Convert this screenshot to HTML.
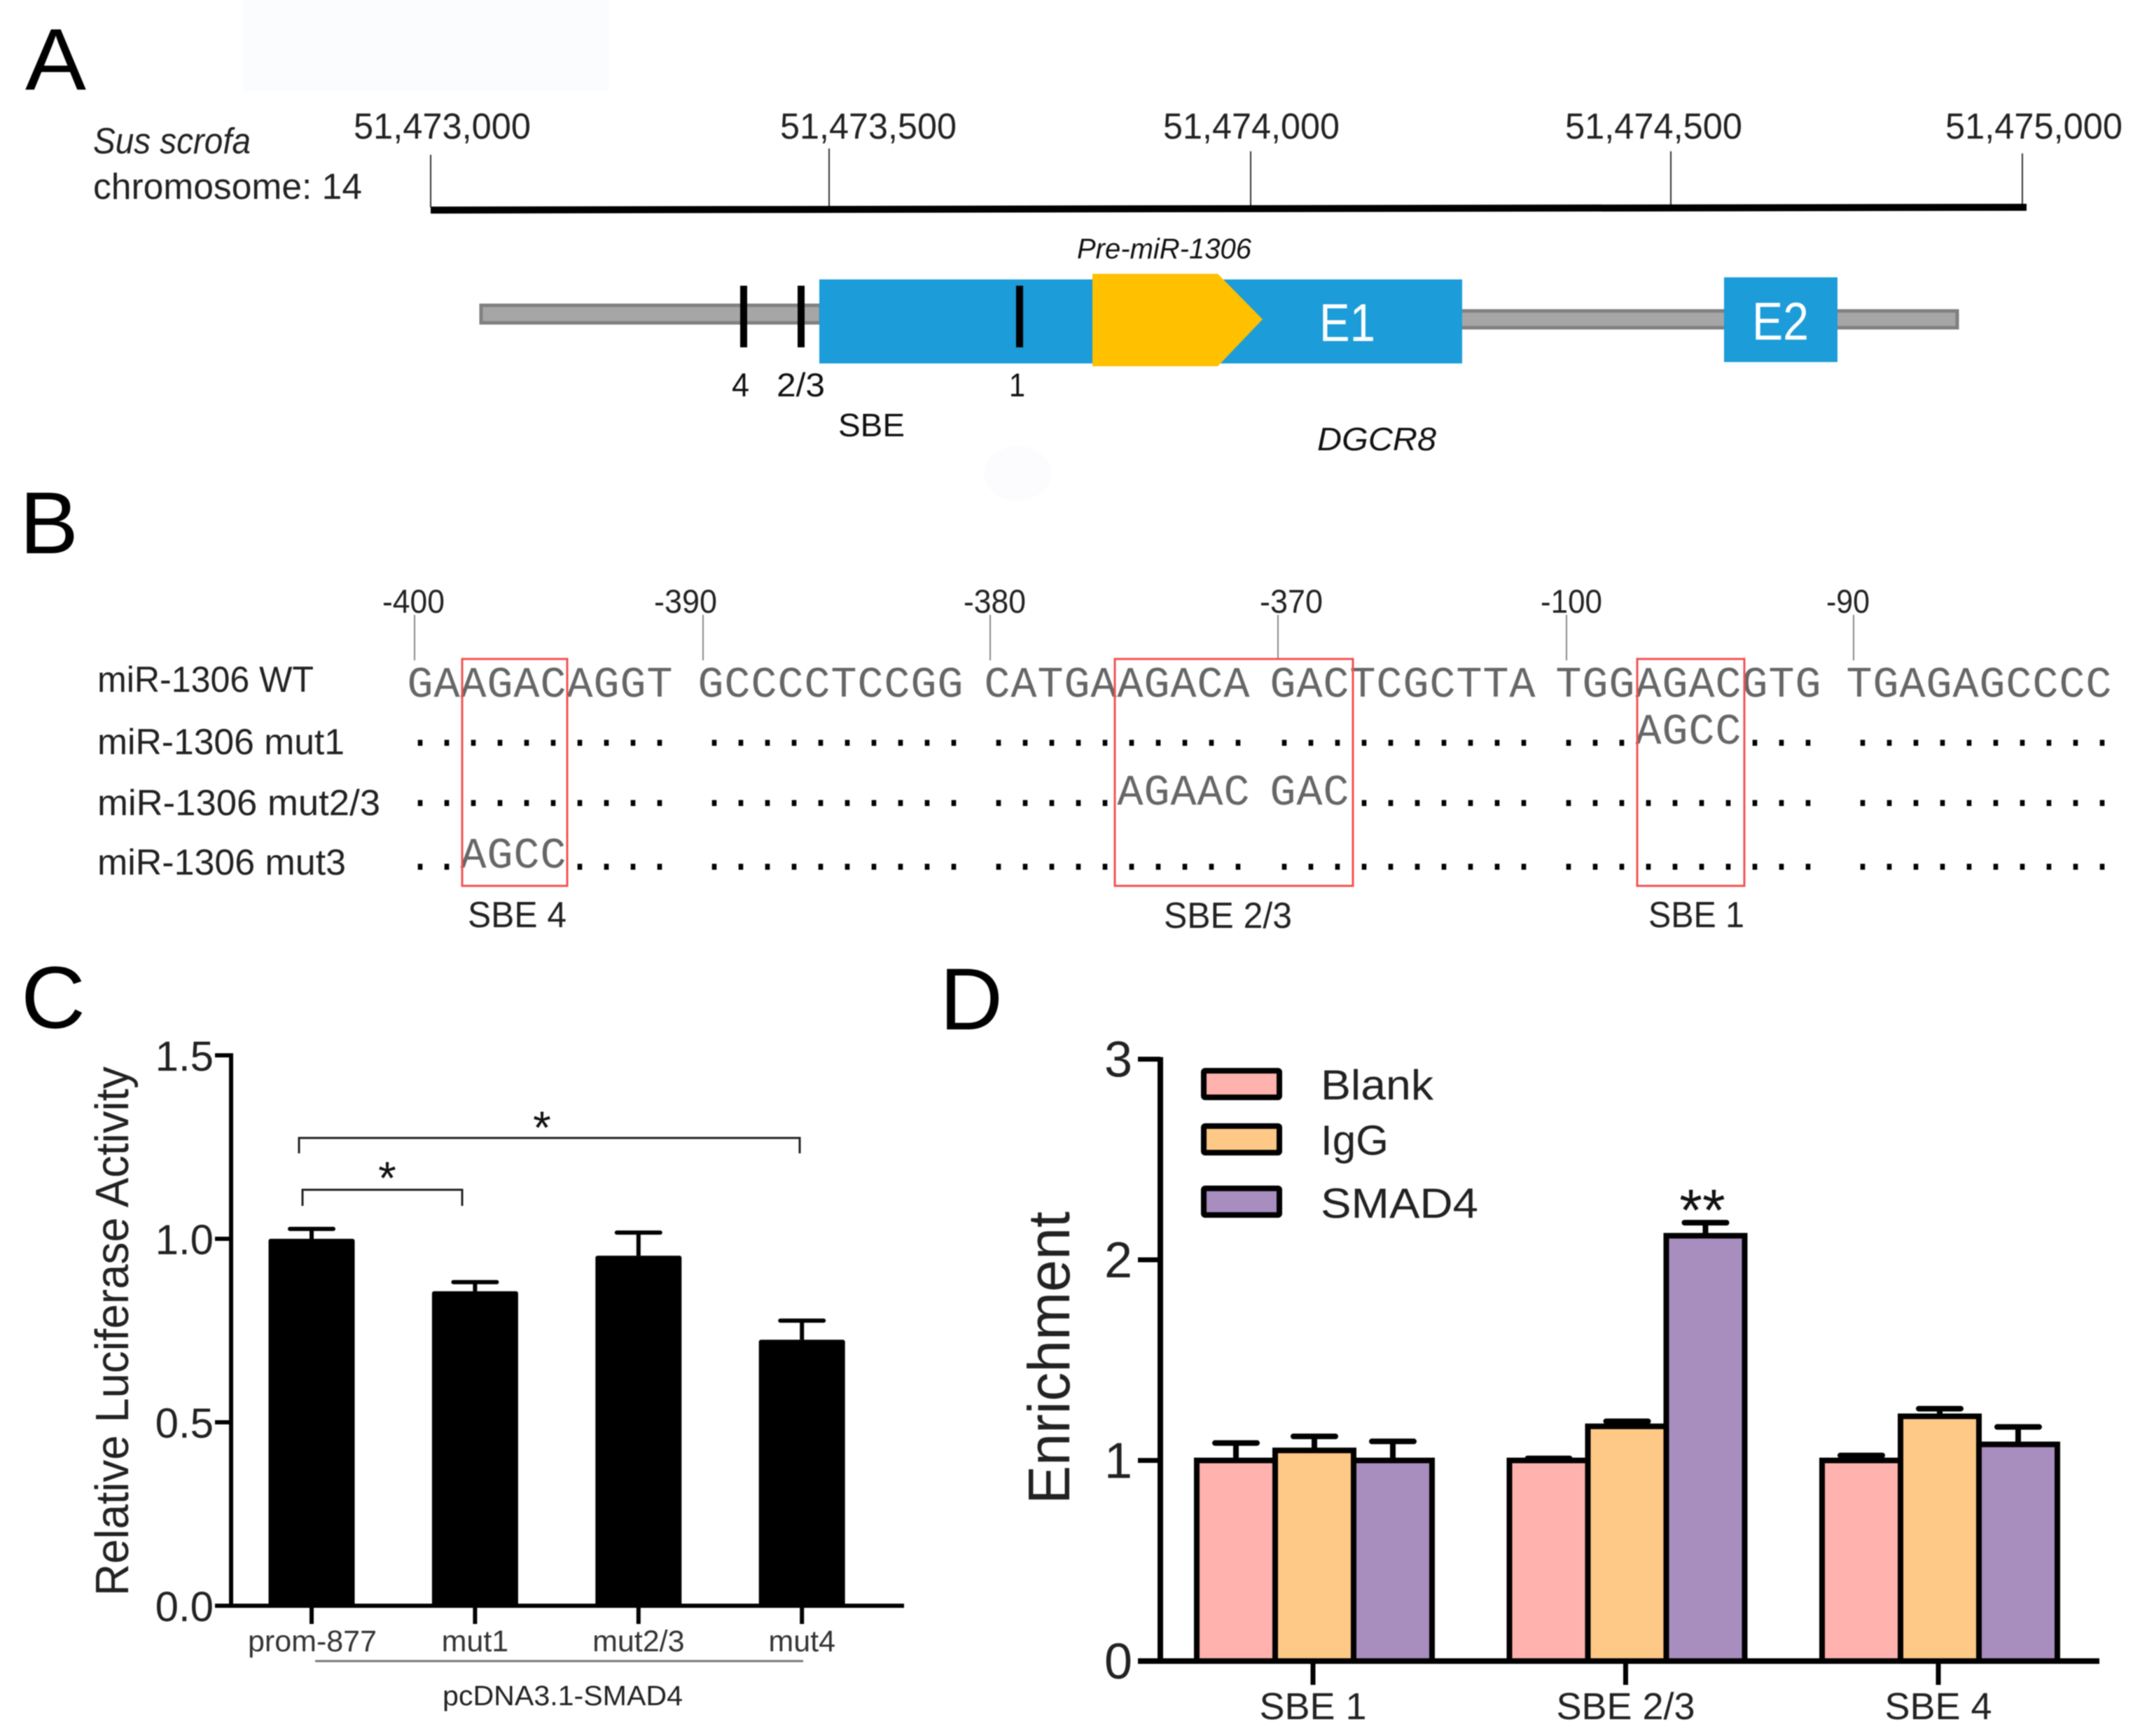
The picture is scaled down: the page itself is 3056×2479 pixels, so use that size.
<!DOCTYPE html>
<html lang="en">
<head>
<meta charset="utf-8">
<title>miR-1306 SBE figure</title>
<style>
html,body{margin:0;padding:0;background:#fff;}
svg{display:block;filter:blur(0.9px);}
text{font-family:"Liberation Sans",sans-serif;}
.cal{fill:#222;font-size:52px;}
.panel{fill:#000;font-size:125px;}
</style>
</head>
<body>
<svg id="fig" xmlns="http://www.w3.org/2000/svg" width="3056" height="2479" viewBox="0 0 3056 2479">
<rect x="0" y="0" width="3056" height="2479" fill="#fff"/>
<rect x="348" y="0" width="522" height="129" fill="#fbfcfe"/>
<ellipse cx="1453" cy="676" rx="48" ry="39" fill="#fcfcff"/>

<g>
<text class="panel" x="36" y="128" textLength="87" lengthAdjust="spacingAndGlyphs">A</text>
<text class="cal" x="133" y="219" font-style="italic" textLength="225" lengthAdjust="spacingAndGlyphs">Sus scrofa</text>
<text class="cal" x="133" y="284" textLength="384" lengthAdjust="spacingAndGlyphs">chromosome: 14</text>
<text class="cal" x="505" y="198" textLength="253" lengthAdjust="spacingAndGlyphs">51,473,000</text>
<text class="cal" x="1114" y="198" textLength="252" lengthAdjust="spacingAndGlyphs">51,473,500</text>
<text class="cal" x="1661" y="198" textLength="252" lengthAdjust="spacingAndGlyphs">51,474,000</text>
<text class="cal" x="2235" y="198" textLength="253" lengthAdjust="spacingAndGlyphs">51,474,500</text>
<text class="cal" x="2778" y="198" textLength="253" lengthAdjust="spacingAndGlyphs">51,475,000</text>
<g stroke="#333" stroke-width="2">
<line x1="615" y1="221" x2="615" y2="296"/>
<line x1="1184" y1="212" x2="1184" y2="295"/>
<line x1="1786" y1="216" x2="1786" y2="294"/>
<line x1="2386" y1="216" x2="2386" y2="292"/>
<line x1="2888" y1="219" x2="2888" y2="292"/>
</g>
<line x1="615" y1="300" x2="2894" y2="296" stroke="#000" stroke-width="10"/>
<rect x="687" y="436" width="485" height="25" fill="#a6a6a6" stroke="#808080" stroke-width="5"/>
<rect x="2085" y="444" width="710" height="24" fill="#a6a6a6" stroke="#808080" stroke-width="5"/>
<rect x="1170" y="399" width="918" height="120" fill="#1c9cd8"/>
<rect x="2462" y="396" width="162" height="121" fill="#1c9cd8"/>
<polygon points="1560,391 1739,391 1803,456 1739,523 1560,523" fill="#ffc000"/>
<rect x="1057" y="408" width="10" height="88" fill="#000"/>
<rect x="1139" y="408" width="10" height="88" fill="#000"/>
<rect x="1451" y="408" width="10" height="88" fill="#000"/>
<text x="1884" y="487" font-size="76" fill="#fff" textLength="80" lengthAdjust="spacingAndGlyphs">E1</text>
<text x="2502" y="485" font-size="76" fill="#fff" textLength="81" lengthAdjust="spacingAndGlyphs">E2</text>
<text x="1538" y="369" font-size="41" font-style="italic" fill="#111" textLength="249" lengthAdjust="spacingAndGlyphs">Pre-miR-1306</text>
<text x="1881" y="643" font-size="46" font-style="italic" fill="#111" textLength="170" lengthAdjust="spacingAndGlyphs">DGCR8</text>
<text x="1045" y="566" font-size="47" fill="#111" textLength="25" lengthAdjust="spacingAndGlyphs">4</text>
<text x="1109" y="566" font-size="47" fill="#111" textLength="69" lengthAdjust="spacingAndGlyphs">2/3</text>
<text x="1441" y="566" font-size="47" fill="#111" textLength="23" lengthAdjust="spacingAndGlyphs">1</text>
<text x="1197" y="623" font-size="46" fill="#111" textLength="95" lengthAdjust="spacingAndGlyphs">SBE</text>
</g>

<g id="panel-b">
<text class="panel" x="28" y="790" textLength="84" lengthAdjust="spacingAndGlyphs">B</text>
<text class="cal" x="546" y="875" style="font-size:47px" textLength="89" lengthAdjust="spacingAndGlyphs">-400</text>
<text class="cal" x="934" y="875" style="font-size:47px" textLength="90" lengthAdjust="spacingAndGlyphs">-390</text>
<text class="cal" x="1376" y="875" style="font-size:47px" textLength="89" lengthAdjust="spacingAndGlyphs">-380</text>
<text class="cal" x="1799" y="875" style="font-size:47px" textLength="90" lengthAdjust="spacingAndGlyphs">-370</text>
<text class="cal" x="2200" y="875" style="font-size:47px" textLength="88" lengthAdjust="spacingAndGlyphs">-100</text>
<text class="cal" x="2608" y="875" style="font-size:47px" textLength="62" lengthAdjust="spacingAndGlyphs">-90</text>
<g stroke="#888" stroke-width="2">
<line x1="592" y1="878" x2="592" y2="943"/>
<line x1="1004" y1="878" x2="1004" y2="943"/>
<line x1="1414" y1="878" x2="1414" y2="943"/>
<line x1="1825" y1="878" x2="1825" y2="940"/>
<line x1="2237" y1="878" x2="2237" y2="943"/>
<line x1="2647" y1="878" x2="2647" y2="943"/>
</g>
<text class="cal" x="139" y="988" textLength="309" lengthAdjust="spacingAndGlyphs">miR-1306 WT</text>
<text class="cal" x="139" y="1077" textLength="353" lengthAdjust="spacingAndGlyphs">miR-1306 mut1</text>
<text class="cal" x="139" y="1164" textLength="404" lengthAdjust="spacingAndGlyphs">miR-1306 mut2/3</text>
<text class="cal" x="139" y="1249" textLength="355" lengthAdjust="spacingAndGlyphs">miR-1306 mut3</text>
<g id="seq-layer"></g>
<g fill="none" stroke="#f65050" stroke-width="3">
<rect x="660" y="941" width="150" height="324"/>
<rect x="1592" y="941" width="340" height="324"/>
<rect x="2338" y="941" width="153" height="324"/>
</g>
<text class="cal" x="668" y="1324" textLength="141" lengthAdjust="spacingAndGlyphs">SBE 4</text>
<text class="cal" x="1662" y="1325" textLength="183" lengthAdjust="spacingAndGlyphs">SBE 2/3</text>
<text class="cal" x="2354" y="1324" textLength="137" lengthAdjust="spacingAndGlyphs">SBE 1</text>
</g>

<g id="panel-c">
<text class="panel" x="30" y="1468" textLength="92" lengthAdjust="spacingAndGlyphs">C</text>
<text transform="translate(183,2279) rotate(-90)" font-size="67" fill="#222" textLength="756" lengthAdjust="spacingAndGlyphs">Relative Luciferase Activity</text>
<line x1="450" y1="2372" x2="1147" y2="2372" stroke="#777" stroke-width="3"/>
<text x="632" y="2435" font-size="40" fill="#222" textLength="343" lengthAdjust="spacingAndGlyphs">pcDNA3.1-SMAD4</text>
<path d="M427 1647V1625H1142V1647" fill="none" stroke="#222" stroke-width="3"/>
<path d="M432 1722V1699H660V1722" fill="none" stroke="#222" stroke-width="3"/>
<text x="774" y="1633" font-size="66" text-anchor="middle" fill="#111">*</text>
<text x="553" y="1705" font-size="66" text-anchor="middle" fill="#111">*</text>
</g>

<g id="panel-d">
<text class="panel" x="1342" y="1470" textLength="90" lengthAdjust="spacingAndGlyphs">D</text>
<text transform="translate(1527,2148) rotate(-90)" font-size="84" fill="#222" textLength="418" lengthAdjust="spacingAndGlyphs">Enrichment</text>
<g id="d-legend"></g>
<text x="2431" y="1757" font-size="84" text-anchor="middle" fill="#111">**</text>
</g>
</svg>

<script>
// Panel C data
const cCategories = ['prom-877', 'mut1', 'mut2/3', 'mut4'];
const cValues = [1.0, 0.857, 0.954, 0.725];
const cErrorTops = [1.027, 0.882, 1.017, 0.777];
const cTickValues = [0, 0.5, 1.0, 1.5];
const cTickLabels = ['0.0', '0.5', '1.0', '1.5'];

// Panel D data
const dCategories = ['SBE 1', 'SBE 2/3', 'SBE 4'];
const dSeriesNames = ['Blank', 'IgG', 'SMAD4'];
const dBlank = [1.0, 1.0, 1.0];
const dIgG = [1.05, 1.17, 1.22];
const dSmad4 = [1.0, 2.12, 1.08];
const dBlankTops = [1.087, 1.01, 1.025];
const dIgGTops = [1.12, 1.195, 1.258];
const dSmad4Tops = [1.095, 2.185, 1.167];
const dTickValues = [0, 1, 2, 3];

// Panel B data
const seqWT = ['GAAGACAGGT', 'GCCCCTCCGG', 'CATGAAGACA', 'GACTCGCTTA', 'TGGAGACGTG', 'TGAGAGCCCC'];
const seqMut1 = ['..........', '..........', '..........', '..........', '...AGCC...', '..........'];
const seqMut23 = ['..........', '..........', '.....AGAAC', 'GAC.......', '..........', '..........'];
const seqMut3 = ['..AGCC....', '..........', '..........', '..........', '..........', '..........'];

const NS = 'http://www.w3.org/2000/svg';
function svgEl(parent, tag, attrs, txt) {
  const el = document.createElementNS(NS, tag);
  for (const k in attrs) el.setAttribute(k, attrs[k]);
  if (txt !== undefined) el.textContent = txt;
  parent.appendChild(el);
  return el;
}

/* ---------- Panel B sequence ---------- */
const seqLayer = document.getElementById('seq-layer');
function seqX(group, idx) {
  const starts = [600, 1015, 1424, 1832, 2240, 2655];
  return starts[group] + idx * 38;
}
function drawSeqRow(rowName, groups, letterY, dotY) {
  groups.forEach(function (g, gi) {
    const chars = g.split('');
    const letterXs = [], letterStr = [], dotXs = [], dotStr = [];
    chars.forEach(function (c, i) {
      if (c === '.') { dotXs.push(seqX(gi, i)); dotStr.push(c); }
      else { letterXs.push(seqX(gi, i)); letterStr.push(c); }
    });
    if (letterStr.length) {
      const t = svgEl(seqLayer, 'text', { x: letterXs.join(' '), y: letterY, 'text-anchor': 'middle', 'font-size': 62, fill: '#666', style: 'font-family:"Liberation Mono",monospace' }, letterStr.join(''));
      
      
    }
    if (dotStr.length) {
      const d = svgEl(seqLayer, 'text', { x: dotXs.map(function (x) { return x + (gi === 1 || gi === 5 ? 5 : 0) + (gi === 2 || gi === 3 ? 2 : 0); }).join(' '), y: dotY, 'text-anchor': 'middle', 'font-size': 58, fill: '#000', style: 'font-family:"Liberation Mono",monospace' }, dotStr.join(''));
      
      
    }
  });
}
drawSeqRow('seq-wt', seqWT, 995, 995);
drawSeqRow('seq-mut1', seqMut1, 1062, 1065);
drawSeqRow('seq-mut2-3', seqMut23, 1149, 1151);
drawSeqRow('seq-mut3', seqMut3, 1239, 1242);

/* ---------- Panel C ---------- */
const panelC = document.getElementById('panel-c');
function yC(v) { return 2293 - v * 524; }
function xC(i) { return 445 + i * 233.4; }

cValues.forEach(function (v, i) {
  const line = svgEl(panelC, 'line', { x1: xC(i), x2: xC(i), y1: yC(v), y2: yC(cErrorTops[i]), stroke: '#000', 'stroke-width': 6 });
  
  
  const cap = svgEl(panelC, 'line', { x1: xC(i) - 31, x2: xC(i) + 31, y1: yC(cErrorTops[i]), y2: yC(cErrorTops[i]), stroke: '#000', 'stroke-width': 6, 'stroke-linecap': 'round' });
  
  
  const bar = svgEl(panelC, 'rect', { x: xC(i) - 61.5, y: yC(v), width: 123, height: yC(0) - yC(v), fill: '#000', rx: 3 });
  
  
  const tick = svgEl(panelC, 'line', { x1: xC(i), x2: xC(i), y1: yC(0), y2: yC(0) + 26, stroke: '#000', 'stroke-width': 6 });
  
  
  const lbl = svgEl(panelC, 'text', { x: xC(i) + (i === 0 ? 1 : 0), y: 2358, 'text-anchor': 'middle', 'font-size': 43, fill: '#333' }, cCategories[i]);
  
  
});
const cYAxis = svgEl(panelC, 'line', { x1: 330, x2: 330, y1: yC(1.5) - 3, y2: yC(0) + 3, stroke: '#000', 'stroke-width': 6 });


const cXAxis = svgEl(panelC, 'line', { x1: 307, x2: 1291, y1: yC(0), y2: yC(0), stroke: '#000', 'stroke-width': 6 });


cTickValues.forEach(function (v, i) {
  const t = svgEl(panelC, 'line', { x1: 307, x2: 330, y1: yC(v), y2: yC(v), stroke: '#000', 'stroke-width': 6 });
  
  
  const l = svgEl(panelC, 'text', { x: 305, y: yC(v) + 22, 'text-anchor': 'end', 'font-size': 60, fill: '#222' }, cTickLabels[i]);
  
  
});

/* ---------- Panel D ---------- */
const panelD = document.getElementById('panel-d');
const dColors = ['#ffb2ae', '#fec886', '#a88dbf'];
const dAllValues = [dBlank, dIgG, dSmad4];
const dAllTops = [dBlankTops, dIgGTops, dSmad4Tops];
function yD(v) { return 2372 - v * 286.5; }
function xD(groupIdx) { return 1877 + groupIdx * 446.5; }
function barLeftD(groupIdx, s) { return xD(groupIdx) - 168 + s * 112; }

dCategories.forEach(function (cat, g) {
  dSeriesNames.forEach(function (ser, s) {
    const v = dAllValues[s][g];
    const top = dAllTops[s][g];
    const cx = barLeftD(g, s) + 56;
    const el = svgEl(panelD, 'line', { x1: cx, x2: cx, y1: yD(v), y2: yD(top), stroke: '#000', 'stroke-width': 8 });
    
    
    const cap = svgEl(panelD, 'line', { x1: cx - 30, x2: cx + 30, y1: yD(top), y2: yD(top), stroke: '#000', 'stroke-width': 8, 'stroke-linecap': 'round' });
    
    
    const bar = svgEl(panelD, 'rect', { x: barLeftD(g, s), y: yD(v), width: 112, height: yD(0) - yD(v), fill: dColors[s], stroke: '#000', 'stroke-width': 8 });
    
    
  });
  const tick = svgEl(panelD, 'line', { x1: xD(g) - 2, x2: xD(g) - 2, y1: yD(0), y2: yD(0) + 34, stroke: '#000', 'stroke-width': 7 });
  
  
  const lbl = svgEl(panelD, 'text', { x: xD(g) - 2, y: 2455, 'text-anchor': 'middle', 'font-size': 54, fill: '#222' }, cat);
  
  
});
const dYAxis = svgEl(panelD, 'line', { x1: 1657, x2: 1657, y1: yD(3) - 3, y2: yD(0) + 3, stroke: '#000', 'stroke-width': 8 });


const dXAxis = svgEl(panelD, 'line', { x1: 1625, x2: 2998, y1: yD(0), y2: yD(0), stroke: '#000', 'stroke-width': 8 });


dTickValues.forEach(function (v) {
  const t = svgEl(panelD, 'line', { x1: 1625, x2: 1657, y1: yD(v), y2: yD(v), stroke: '#000', 'stroke-width': 7 });
  
  
  const l = svgEl(panelD, 'text', { x: 1617, y: yD(v) + 25, 'text-anchor': 'end', 'font-size': 72, fill: '#222' }, String(v));
  
  
});

/* legend */
const dLegend = document.getElementById('d-legend');
function legendY(i) { return [1529, 1608, 1697][i]; }
function legendBase(i) { return [1570, 1649, 1739][i]; }
function legendW(i) { return [161, 97, 225][i]; }
dSeriesNames.forEach(function (ser, i) {
  const sw = svgEl(dLegend, 'rect', { x: 1719, y: legendY(i), width: 108, height: 38, fill: dColors[i], stroke: '#000', 'stroke-width': 8, rx: 2 });
  
  
  const tx = svgEl(dLegend, 'text', { x: 1886, y: legendBase(i), 'font-size': 60, fill: '#222', textLength: legendW(i), lengthAdjust: 'spacingAndGlyphs' }, ser);
  
  
});
</script>
</body>
</html>
